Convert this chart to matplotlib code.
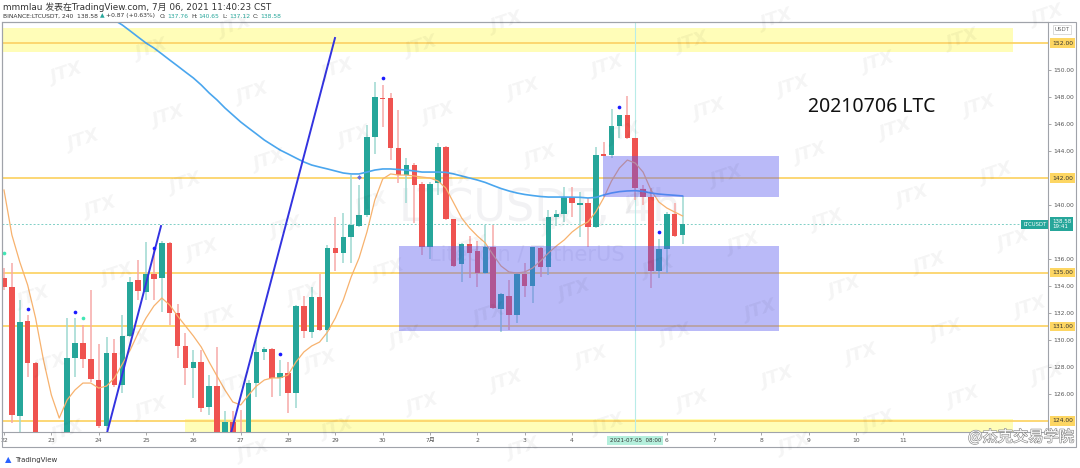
import numpy as np
import matplotlib.pyplot as plt
from matplotlib.patches import Rectangle
from matplotlib.transforms import blended_transform_factory
import matplotlib.patheffects as pe

plt.rcParams['font.family'] = ['DejaVu Sans', 'Noto Sans CJK SC']

# 4h candles LTCUSDT, 22 Jun 00:00 -> 6 Jul 08:00 (index 0 .. 86)
opens = [134.61, 133.95, 124.37, 131.43, 128.32, 122.6, 121.9, 122.3, 122.0, 128.64,
         129.8, 128.57, 127.0, 123.63, 129.06, 126.67, 130.3, 134.44, 133.58, 134.89,
         134.57, 137.2, 132.02, 129.56, 127.95, 128.35, 125.01, 126.59, 122.7, 123.95,
         122.9, 122.7, 126.79, 129.13, 129.3, 127.16, 127.58, 126.1, 132.54, 130.62,
         133.16, 130.74, 136.84, 136.42, 137.65, 138.47, 139.26, 145.01, 147.9, 147.9,
         144.2, 142.22, 142.96, 141.53, 136.91, 141.6, 144.27, 138.94, 135.63, 137.11,
         136.6, 134.99, 136.91, 132.27, 133.28, 131.85, 134.89, 134.0, 136.8, 135.39,
         139.13, 139.33, 140.62, 140.0, 140.17, 138.35, 143.8, 143.7, 145.85, 146.67,
         144.94, 141.16, 140.57, 135.13, 136.72, 139.33, 137.76]
highs = [135.3, 135.7, 133.0, 131.85, 128.4, 122.9, 123.1, 123.2, 131.6, 131.6,
         131.1, 133.7, 129.7, 130.2, 130.05, 131.85, 134.7, 135.93, 137.28, 136.79,
         137.3, 137.28, 132.7, 130.5, 129.26, 129.26, 127.41, 129.5, 124.76, 124.76,
         124.8, 127.0, 130.0, 129.5, 129.4, 128.5, 128.4, 132.6, 133.28, 133.95,
         134.9, 137.04, 139.13, 139.4, 142.22, 141.48, 145.93, 149.13, 148.9, 148.27,
         147.04, 143.46, 143.1, 141.7, 141.7, 144.57, 144.4, 139.0, 137.2, 137.7,
         137.33, 138.52, 138.52, 133.5, 134.44, 135.0, 135.7, 136.9, 136.9, 139.63,
         139.63, 141.31, 141.31, 141.0, 140.5, 144.27, 144.69, 147.09, 146.7, 148.07,
         144.94, 141.48, 141.24, 137.46, 139.5, 140.13, 140.65]
lows = [133.7, 123.83, 122.9, 127.28, 122.2, 121.5, 121.3, 121.8, 121.8, 127.28,
        127.9, 126.9, 123.5, 123.3, 126.5, 126.06, 130.25, 132.96, 132.96, 133.0,
        132.1, 131.1, 128.64, 126.67, 125.68, 124.69, 124.44, 122.3, 122.4, 122.5,
        122.4, 122.5, 125.8, 128.5, 125.8, 125.85, 124.6, 124.94, 130.13, 130.13,
        130.7, 129.87, 135.13, 135.7, 135.7, 138.4, 139.13, 143.78, 145.8, 143.33,
        141.6, 140.13, 138.64, 136.3, 135.98, 140.74, 138.9, 135.4, 134.3, 134.57,
        133.9, 134.9, 132.3, 130.61, 130.74, 131.24, 133.2, 132.72, 134.7, 134.81,
        138.44, 138.76, 139.13, 137.65, 136.9, 138.3, 143.6, 143.46, 144.94, 144.9,
        140.37, 140.0, 133.83, 134.57, 134.99, 137.65, 137.12]
closes = [133.95, 124.44, 131.36, 128.27, 122.6, 121.9, 122.3, 122.0, 128.69, 129.8,
          128.57, 127.11, 123.63, 129.06, 126.67, 130.3, 134.32, 133.65, 134.89, 134.54,
          137.2, 132.02, 129.56, 127.9, 128.35, 124.94, 126.59, 122.6, 123.95, 122.8,
          122.7, 126.84, 129.13, 129.3, 127.16, 127.58, 126.1, 132.54, 130.69, 133.16,
          130.74, 136.79, 136.42, 137.65, 138.52, 139.26, 145.01, 147.98, 147.83, 144.2,
          142.22, 142.96, 141.48, 136.91, 141.53, 144.27, 138.94, 135.48, 137.11, 136.47,
          134.99, 136.91, 132.35, 133.41, 131.85, 134.89, 134.0, 136.87, 135.39, 139.13,
          139.3, 140.62, 140.13, 140.17, 138.35, 143.7, 143.63, 145.85, 146.67, 144.94,
          141.24, 140.57, 135.13, 136.72, 139.33, 137.7, 138.58]

# short MA (orange) and long MA (blue)
ma_fast = [141.11, 137.78, 135.78, 134.07, 131.63, 128.52, 125.93, 124.22, 125.56, 126.30,
           126.81, 126.81, 126.44, 126.59, 127.19, 128.22, 129.26, 130.52, 131.63, 132.52,
           133.11, 132.59, 131.78, 131.04, 130.30, 129.48, 128.37, 127.33, 126.30, 125.41,
           125.19, 125.93, 126.59, 127.04, 127.19, 127.19, 127.41, 128.37, 129.11, 129.56,
           129.85, 130.59, 131.63, 132.96, 134.67, 136.07, 138.0, 140.37, 141.93, 142.30,
           142.22, 142.22, 142.15, 142.07, 142.0, 141.78, 141.26, 140.15, 139.04, 138.30,
           137.70, 137.19, 136.30, 135.48, 135.04, 134.96, 135.04, 135.33, 135.85, 136.44,
           136.96, 137.41, 138.0, 138.44, 138.74, 139.48, 140.52, 141.78, 142.74, 143.33,
           143.11, 142.44, 141.11, 140.22, 139.78, 139.48, 139.19]
ma_slow = [np.nan] * 14 + [
           153.70, 153.33, 152.89, 152.44, 152.0, 151.63, 151.19, 150.74, 150.30, 149.85,
           149.41, 148.89, 148.30, 147.78, 147.19, 146.67, 146.15, 145.70, 145.26, 144.81,
           144.44, 144.07, 143.78, 143.48, 143.19, 142.96, 142.81, 142.67, 142.52, 142.37,
           142.30, 142.30, 142.44, 142.59, 142.67, 142.67, 142.63, 142.59, 142.52, 142.44,
           142.44, 142.44, 142.42, 142.30, 142.15, 142.0, 141.85, 141.67, 141.44, 141.22,
           141.04, 140.89, 140.78, 140.70, 140.63, 140.59, 140.59, 140.59, 140.58, 140.57,
           140.52, 140.56, 140.74, 140.89, 140.99, 141.04, 141.06, 141.01, 140.89, 140.81,
           140.76, 140.72, 140.67]

# drawings on the chart
levels = [152, 142, 135, 131, 124]
trend_a_x, trend_a_y = [13.05, 19.9], [123.11, 138.44]
trend_b_x, trend_b_y = [28.77, 41.95], [123.11, 152.37]
box_big = (50.06, 98.2, 130.67, 137.0)
box_small = (75.9, 98.2, 140.59, 143.63)
band_top = (-0.3, 127.88, 151.33, 153.1)
band_bottom = (22.9, 127.88, 122.0, 124.15)
blue_dot_x = [3, 9, 19, 35, 48, 78, 83]
blue_dot_y = [132.3, 132.07, 136.84, 128.96, 149.43, 147.24, 138.02]
teal_dot_x = [0, 10]
teal_dot_y = [136.44, 131.65]

day_idx = [0, 6, 12, 18, 24, 30, 36, 42, 48, 54, 60, 66, 72, 84, 90, 96, 102, 108, 114]
day_lbl = ['22', '23', '24', '25', '26', '27', '28', '29', '30', '7月', '2', '3', '4',
           '6', '7', '8', '9', '10', '11']
price_ticks = [126, 128, 130, 132, 134, 136, 140, 144, 146, 148, 150]
last_price = 138.58

UP, DOWN = '#26a69a', '#ef5350'
UP_W, DOWN_W = '#9ed8d1', '#f6aaa8'
GOLD = '#fcd46a'

fig = plt.figure(figsize=(10.8, 4.68), dpi=100)
W, H = 1080, 468
ax = fig.add_axes([2 / W, 1 - 432 / H, 1046 / W, 410 / H])
ax.set_xlim(-0.2535, 132.32)
ax.set_ylim(123.185, 153.556)

idx = np.arange(len(opens))
o, h, l, c = map(np.array, (opens, highs, lows, closes))
up = c >= o

# background watermark
ax.text(540 / W, 1 - 208 / H, 'LTCUSDT, 4h', transform=fig.transFigure, fontsize=32,
        color='#f2f2f4', ha='center', va='center', zorder=0)
ax.text(527 / W, 1 - 255 / H, 'Litecoin / TetherUS', transform=fig.transFigure, fontsize=15,
        color='#f0f0f2', ha='center', va='center', zorder=0)

# bands and horizontal levels
for x0, x1, y0, y1 in (band_top, band_bottom):
    ax.add_patch(Rectangle((x0, y0), x1 - x0, y1 - y0, fc='#fffdb8', ec='none', zorder=0.5))
for lvl in levels:
    ax.axhline(lvl, color=GOLD, lw=1.3, zorder=1)

ax.axvline(80, color='#b8ece8', lw=0.8, zorder=1)
ax.axhline(last_price, color='#7fcfc6', lw=0.7, ls=(0, (2, 2)), zorder=1)

# candles
ax.vlines(idx, l, h, colors=np.where(up, UP_W, DOWN_W), lw=1.1, zorder=2)
body = np.maximum(np.abs(c - o), 0.09)
ax.bar(idx, body, bottom=np.minimum(o, c), width=0.7,
       color=np.where(up, UP, DOWN), zorder=3)

ax.plot(idx, ma_fast, color='#f7b26e', lw=0.9, zorder=4)
ax.plot(idx, ma_slow, color='#4aa6ee', lw=1.2, zorder=4)

# rectangles
for x0, x1, y0, y1 in (box_big, box_small):
    ax.add_patch(Rectangle((x0, y0), x1 - x0, y1 - y0, fc='#5b5bf0', alpha=0.42,
                           ec='none', zorder=5))

ax.plot(trend_a_x, trend_a_y, color='#3333e0', lw=1.4, zorder=6)
ax.plot(trend_b_x, trend_b_y, color='#3333e0', lw=1.4, zorder=6)

ax.scatter(blue_dot_x, blue_dot_y, s=7, color='#1a1aff', zorder=7, lw=0)
ax.scatter(teal_dot_x, teal_dot_y, s=7, color='#40e6b4', zorder=7, lw=0)
ax.scatter([45], [142.05], s=6, color='#6a6ad8', marker='D', zorder=7, lw=0)

ax.text(872 / W, 1 - 107 / H, '20210706 LTC', transform=fig.transFigure, fontsize=14,
        family='Noto Sans', ha='center', va='center', color='#111', zorder=8)

# axes styling
for s in ax.spines.values():
    s.set_color('#a0a3aa')
    s.set_linewidth(0.8)
ax.yaxis.tick_right()
ax.set_yticks(price_ticks)
ax.set_yticklabels([f'{p:.2f}' for p in price_ticks])
ax.tick_params(axis='y', length=2.5, width=0.6, color='#999', labelsize=4.3,
               labelcolor='#555', pad=1.5)
ax.set_xticks(day_idx)
ax.set_xticklabels(day_lbl)
ax.tick_params(axis='x', length=2.5, width=0.6, color='#999', labelsize=4.3,
               labelcolor='#555', pad=2)

tr = blended_transform_factory(ax.transAxes, ax.transData)
for lvl in levels:
    ax.text(1.004, lvl, f'{lvl:.2f}', transform=tr, fontsize=4.3, color='#333',
            va='center', ha='left', zorder=9,
            bbox=dict(boxstyle='square,pad=0.35', fc='#fdd663', ec='none'))
ax.text(1.004, last_price, f'{last_price:.2f}\n19:41', transform=tr, fontsize=4.0,
        color='white', va='center', ha='left', linespacing=1.1, zorder=9,
        bbox=dict(boxstyle='square,pad=0.35', fc=UP, ec='none'))
ax.text(0.9985, last_price, 'LTCUSDT', transform=tr, fontsize=3.8, color='white',
        va='center', ha='right', zorder=9,
        bbox=dict(boxstyle='square,pad=0.35', fc=UP, ec='none'))
ax.text(1.006, 153.0, 'USDT', transform=tr, fontsize=4.0, color='#666', va='center',
        ha='left', zorder=9, bbox=dict(boxstyle='square,pad=0.3', fc='white', ec='#ccc', lw=0.5))

trx = blended_transform_factory(ax.transData, ax.transAxes)
ax.text(80, -0.021, '2021-07-05  08:00', transform=trx, fontsize=4.0, color='#333',
        ha='center', va='center', zorder=9,
        bbox=dict(boxstyle='square,pad=0.4', fc='#b4efdc', ec='none'))

# outer frame
fig.add_artist(Rectangle((2 / W, 1 - 447 / H), 1074 / W, 425 / H, transform=fig.transFigure,
                         fill=False, ec='#a0a3aa', lw=0.8))

# header lines
fig.text(3 / W, 1 - 7 / H, 'mmmlau 发表在TradingView.com, 7月 06, 2021 11:40:23 CST',
         fontsize=6.4, color='#333', va='center')
hdr = [('BINANCE:LTCUSDT, 240  138.58', '#333'), ('▲', UP), ('+0.87 (+0.63%)', '#333'),
       ('O:', '#333'), ('137.76', UP), ('H:', '#333'), ('140.65', UP),
       ('L:', '#333'), ('137.12', UP), ('C:', '#333'), ('138.58', UP)]
gaps = [2, 2, 4, 1, 3, 1, 3, 1, 3, 1, 0]
renderer = fig.canvas.get_renderer()
hx = 3
for (s, col), g in zip(hdr, gaps):
    t = fig.text(hx / W, 1 - 16 / H, s, fontsize=4.3, color=col, va='center')
    hx += t.get_window_extent(renderer).width + g

# JTX tiled watermark
for m in range(-4, 14):
    for n in range(-8, 8):
        px = 67 + 101.5 * m + 17 * n
        py = 73 + 43.5 * m + 67 * n
        if 22 < px < W - 22 and 12 < py < H - 12:
            fig.text(px / W, 1 - py / H, 'JTX', fontsize=13, fontweight='bold',
                     fontstyle='italic', color='black', alpha=0.045, rotation=18,
                     ha='center', va='center', zorder=20)

# footer
fig.text(1074 / W, 1 - 437 / H, '@杰克交易学院', fontsize=11, color='white', ha='right',
         va='center', family=['Noto Sans CJK SC', 'DejaVu Sans'], zorder=21,
         path_effects=[pe.withStroke(linewidth=0.9, foreground='#8a8a8a')])
fig.text(8 / W, 1 - 460 / H, '▲', fontsize=6, color='#2962ff', ha='center', va='center')
fig.text(15 / W, 1 - 460 / H, 'TradingView', fontsize=5, color='#333', va='center')

fig.savefig('out.png', dpi=100)
